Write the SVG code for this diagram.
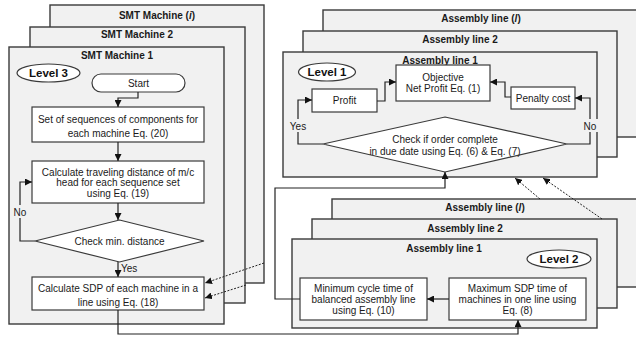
<svg xmlns="http://www.w3.org/2000/svg" width="636" height="340" viewBox="0 0 636 340">
  <defs>
    <marker id="ah" viewBox="0 0 8 8" refX="8" refY="4" markerWidth="7" markerHeight="7" markerUnits="userSpaceOnUse" orient="auto">
      <path d="M0,0 L8,4 L0,8 z" fill="#111"/>
    </marker>
    <style>
      .panel { fill:#f1f1f1; stroke:#3a3a3a; stroke-width:1.4; }
      .box { fill:#fff; stroke:#3a3a3a; stroke-width:1.2; }
      .ttl { font-family:"Liberation Sans", Arial, sans-serif; font-size:10px; font-weight:bold; text-anchor:middle; fill:#1a1a1a; }
      .txt { font-family:"Liberation Sans", Arial, sans-serif; font-size:10px; text-anchor:middle; fill:#1a1a1a; }
      .lvl { font-family:"Liberation Sans", Arial, sans-serif; font-size:11.5px; font-weight:bold; text-anchor:middle; fill:#111; }
      .lab { font-family:"Liberation Sans", Arial, sans-serif; font-size:10px; fill:#1a1a1a; }
      .bg { fill:#f1f1f1; stroke:none; }
      .conn { fill:none; stroke:#222; stroke-width:1.2; }
      .arr { marker-end:url(#ah); }
      .dash { fill:none; stroke:#222; stroke-width:1; stroke-dasharray:2 1.5; marker-end:url(#ah); }
    </style>
  </defs>

  <!-- Level 3: SMT machines -->
  <g id="smt-machine-i">
    <rect class="panel" x="50" y="5" width="214" height="278"/>
    <text class="ttl" x="157" y="19">SMT Machine (<tspan font-style="italic">i</tspan>)</text>
  </g>
  <g id="smt-machine-2">
    <rect class="panel" x="30" y="27" width="215" height="276"/>
    <text class="ttl" x="137" y="38">SMT Machine 2</text>
  </g>
  <g id="smt-machine-1">
    <rect class="panel" x="9" y="47" width="215" height="277"/>
    <text class="ttl" x="117" y="59">SMT Machine 1</text>
  </g>
  <g id="level3">
    <ellipse class="box" cx="48.5" cy="73" rx="31.5" ry="9"/>
    <text class="lvl" x="48.5" y="77">Level 3</text>
  </g>
  <g id="start">
    <rect class="box" x="92" y="74" width="93" height="18" rx="9"/>
    <text class="txt" x="138.5" y="86.5">Start</text>
  </g>
  <g id="sequences">
    <rect class="box" x="32" y="107" width="172" height="35"/>
    <text class="txt" x="118" y="122.5">Set of sequences of components for</text>
    <text class="txt" x="118" y="136.5">each machine Eq. (20)</text>
  </g>
  <g id="travel-distance">
    <rect class="box" x="32" y="161" width="172" height="42"/>
    <text class="txt" x="118" y="175.5">Calculate traveling distance of m/c</text>
    <text class="txt" x="118" y="186">head for each sequence set</text>
    <text class="txt" x="118" y="196.5">using Eq. (19)</text>
  </g>
  <g id="check-min">
    <polygon class="box" points="119.5,220 204,241 119.5,262 35,241"/>
    <text class="txt" x="119.5" y="244.5">Check min. distance</text>
  </g>
  <g id="sdp">
    <rect class="box" x="32" y="277" width="172" height="33"/>
    <text class="txt" x="118" y="291.5">Calculate SDP of each machine in a</text>
    <text class="txt" x="118" y="305.5">line using Eq. (18)</text>
  </g>

  <!-- Level 1: assembly lines (top) -->
  <g id="top-line-l">
    <rect class="panel" x="323" y="10" width="320" height="127"/>
    <text class="ttl" x="481" y="22">Assembly line (<tspan font-style="italic">l</tspan>)</text>
  </g>
  <g id="top-line-2">
    <rect class="panel" x="303" y="31" width="314" height="126"/>
    <text class="ttl" x="460" y="43">Assembly line 2</text>
  </g>
  <g id="top-line-1">
    <rect class="panel" x="283" y="52" width="314" height="125"/>
    <text class="ttl" x="440" y="64">Assembly line 1</text>
  </g>
  <g id="level1">
    <ellipse class="box" cx="327" cy="72" rx="28.5" ry="9"/>
    <text class="lvl" x="327" y="76">Level 1</text>
  </g>
  <g id="objective">
    <rect class="box" x="396" y="65" width="94" height="36"/>
    <text class="txt" x="443" y="80.5">Objective</text>
    <text class="txt" x="443" y="91.5">Net Profit Eq. (1)</text>
  </g>
  <g id="profit">
    <rect class="box" x="312" y="89" width="65" height="23"/>
    <text class="txt" x="344.5" y="103.5">Profit</text>
  </g>
  <g id="penalty">
    <rect class="box" x="511" y="87" width="64" height="22"/>
    <text class="txt" x="543" y="101.5">Penalty cost</text>
  </g>
  <g id="check-order">
    <polygon class="box" points="445,117 567,144 445,172 323,144"/>
    <text class="txt" x="445" y="142.5">Check if order complete</text>
    <text class="txt" x="445" y="154.5">in due date using Eq. (6) &amp; Eq. (7)</text>
  </g>

  <!-- Level 2: assembly lines (bottom) -->
  <g id="bottom-line-l">
    <rect class="panel" x="332" y="199" width="310" height="88"/>
    <text class="ttl" x="485" y="211">Assembly line (<tspan font-style="italic">l</tspan>)</text>
  </g>
  <g id="bottom-line-2">
    <rect class="panel" x="312" y="219" width="305" height="89"/>
    <text class="ttl" x="465" y="232">Assembly line 2</text>
  </g>
  <g id="bottom-line-1">
    <rect class="panel" x="292" y="239" width="305" height="89"/>
    <text class="ttl" x="444" y="252">Assembly line 1</text>
  </g>
  <g id="level2">
    <ellipse class="box" cx="559" cy="259" rx="32" ry="9"/>
    <text class="lvl" x="559" y="263">Level 2</text>
  </g>
  <g id="min-cycle">
    <rect class="box" x="300" y="278" width="127" height="42"/>
    <text class="txt" x="363.5" y="291.5">Minimum cycle time of</text>
    <text class="txt" x="363.5" y="302.5">balanced assembly line</text>
    <text class="txt" x="363.5" y="314">using Eq. (10)</text>
  </g>
  <g id="max-sdp">
    <rect class="box" x="449" y="278" width="137" height="42"/>
    <text class="txt" x="517.5" y="291.5">Maximum SDP time of</text>
    <text class="txt" x="517.5" y="302.5">machines in one line using</text>
    <text class="txt" x="517.5" y="314">Eq. (8)</text>
  </g>

  <!-- Connectors -->
  <g id="connectors">
    <polyline class="conn arr" points="138,92 138,98 118,98 118,107"/>
    <polyline class="conn arr" points="118,142 118,161"/>
    <polyline class="conn arr" points="118,203 118,220"/>
    <polyline class="conn arr" points="35,241 20,241 20,182 32,182"/>
    <rect class="bg" x="12" y="205" width="17" height="13"/>
    <text class="lab" x="20" y="215.5" text-anchor="middle">No</text>
    <polyline class="conn arr" points="118,262 118,277"/>
    <text class="lab" x="121" y="271.5">Yes</text>
    <polyline class="conn arr" points="118,310 118,334 518,334 518,320"/>

    <polyline class="conn arr" points="377,101 385,101 385,82 396,82"/>
    <polyline class="conn arr" points="511,97 505,97 505,82 490,82"/>
    <polyline class="conn arr" points="323,144 298,144 298,100 312,100"/>
    <rect class="bg" x="288" y="119" width="20" height="13"/>
    <text class="lab" x="298" y="129.5" text-anchor="middle">Yes</text>
    <polyline class="conn arr" points="567,144 590,144 590,98 575,98"/>
    <rect class="bg" x="583" y="119" width="15" height="13"/>
    <text class="lab" x="590" y="129.5" text-anchor="middle">No</text>

    <polyline class="conn arr" points="449,299 427,299"/>
    <polyline class="conn arr" points="300,299 275,299 275,188 445,188 445,172"/>

    <line class="dash" x1="264" y1="263" x2="205" y2="283"/>
    <line class="dash" x1="246" y1="285" x2="205" y2="298"/>
    <line class="dash" x1="540" y1="199" x2="515" y2="178"/>
    <line class="dash" x1="602" y1="219" x2="543" y2="178"/>
  </g>
</svg>
